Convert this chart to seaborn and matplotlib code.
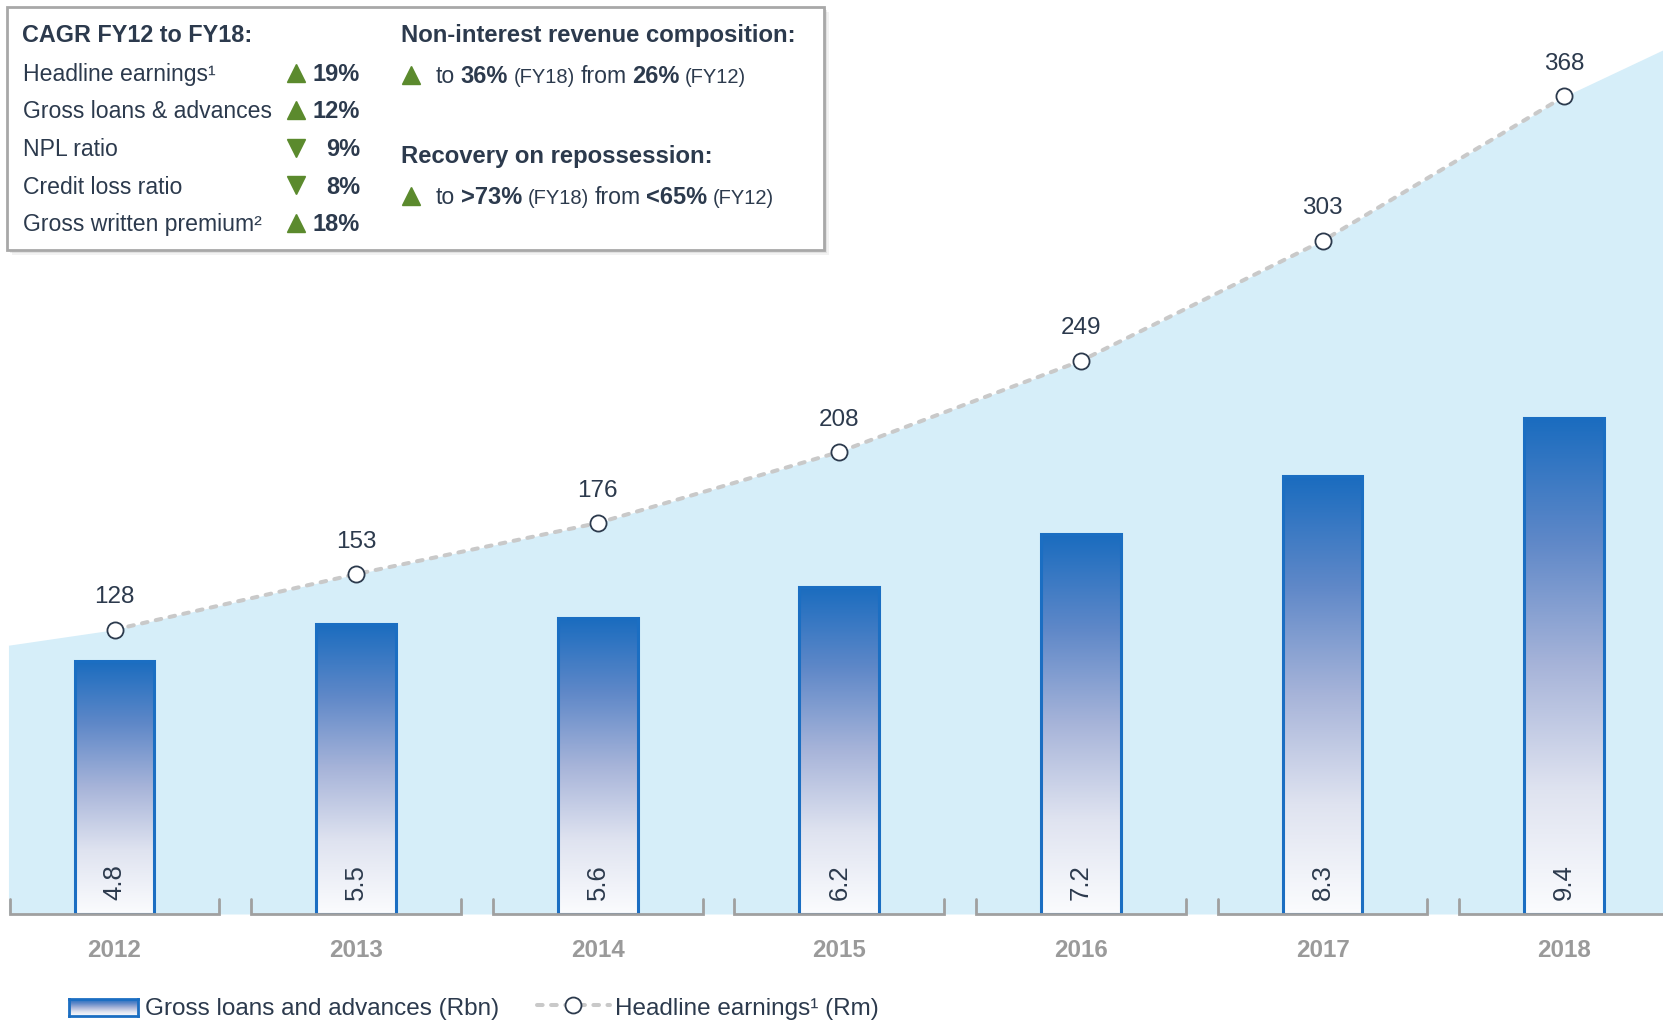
import numpy as np
import pandas as pd
import matplotlib
matplotlib.use("Agg")
import matplotlib.pyplot as plt
import seaborn as sns
from matplotlib.patches import Rectangle
from matplotlib.lines import Line2D
from matplotlib.colors import LinearSegmentedColormap
from matplotlib import font_manager as fm

# ---------------- data ----------------
years = ["2012", "2013", "2014", "2015", "2016", "2017", "2018"]
loans = [4.8, 5.5, 5.6, 6.2, 7.2, 8.3, 9.4]            # Gross loans and advances (Rbn)
earnings = [128, 153, 176, 208, 249, 303, 368]        # Headline earnings (Rm)
area_edge_values = [121, 389]                          # light-blue area at left / right edge (Rm)

cagr_labels = ["Headline earnings\u00b9", "Gross loans & advances", "NPL ratio",
               "Credit loss ratio", "Gross written premium\u00b2"]
cagr_values = ["19%", "12%", "9%", "8%", "18%"]
cagr_up = [True, True, False, False, True]

# ---------------- style ----------------
sns.set_theme(style="white")
names = {f.name for f in fm.fontManager.ttflist}
NARROW = "Liberation Sans Narrow" if "Liberation Sans Narrow" in names else "Liberation Sans"
plt.rcParams["font.family"] = [NARROW, "DejaVu Sans"]

DARK = "#2c3a4d"
GREEN = "#5b8a2d"
BLUE = "#1b6ec2"
AREA = "#d6eef9"
GRAY = "#a0a0a0"

W, H = 1663, 1021
fig = plt.figure(figsize=(W / 100, H / 100), dpi=100)
fig.patch.set_facecolor("white")

base_px = 914
ax = fig.add_axes([0, 1 - base_px / H, 1, base_px / H])
ax2 = ax.twinx()

df = pd.DataFrame({"year": years, "loans": loans, "earnings": earnings,
                   "pos": np.arange(len(years))})

x_left, x_right = -0.474, 6.409
area_start = -0.439

# ---- area + line on ax (Rm scale) ----
xs = np.concatenate([[area_start], df["pos"].values, [x_right]])
ys = np.concatenate([[area_edge_values[0]], df["earnings"].values, [area_edge_values[1]]])
ax.fill_between(xs, ys, 0, color=AREA, lw=0, zorder=0)

sns.lineplot(data=df, x="pos", y="earnings", ax=ax, color="#c9c9c9", lw=2.9,
             linestyle=(0, (1.4, 2.1)), dash_capstyle="round", zorder=2)
sns.scatterplot(data=df, x="pos", y="earnings", ax=ax, s=135, color="white",
                edgecolor=DARK, linewidth=1.3, zorder=3)
for p, v in zip(df["pos"], df["earnings"]):
    ax.annotate(str(v), (p, v), xytext=(0, 19), textcoords="offset points",
                ha="center", va="baseline", fontsize=17.5, color=DARK)

# ---- bars on ax2 (Rbn scale) ----
sns.barplot(data=df, x="year", y="loans", ax=ax2, width=0.33, color=BLUE,
            edgecolor=BLUE, linewidth=2.2, zorder=2)
cmap = LinearSegmentedColormap.from_list(
    "bar", [(0, "#fbfcfe"), (0.25, "#dfe3f0"), (0.5, "#a7b4d9"), (0.75, "#5f88c8"), (1, "#1a6cbf")])
grad = np.linspace(0, 1, 256).reshape(-1, 1)
for patch in list(ax2.patches):
    x0, y0 = patch.get_x(), patch.get_y()
    w, h = patch.get_width(), patch.get_height()
    patch.set_facecolor("none")
    im = ax2.imshow(grad, extent=[x0, x0 + w, y0, y0 + h], origin="lower",
                    aspect="auto", cmap=cmap, zorder=1.5)
    im.set_clip_path(patch)
for i, v in enumerate(df["loans"]):
    ax2.text(i, 0.6, f"{v:.1f}", rotation=90, ha="center", va="center",
             fontsize=18.5, color=DARK, zorder=6)

# bracket-like baseline segments
half = 0.434
tick_h = 15 / 52.77
for i in df["pos"]:
    ax2.plot([i - half, i - half, i + half, i + half], [tick_h, 0, 0, tick_h],
             color=GRAY, lw=2, clip_on=False, zorder=5, solid_joinstyle="miter")

# ---- axes cosmetics ----
ax.set_ylim(0, base_px / 2.2215)
ax2.set_ylim(0, base_px / 52.77)
ax.set_xlim(x_left, x_right)
ax2.set_xlim(x_left, x_right)
for a in (ax, ax2):
    for s in a.spines.values():
        s.set_visible(False)
    a.set_yticks([])
    a.set_ylabel("")
    a.set_xlabel("")
ax.patch.set_alpha(0)
ax.set_xticks(range(len(years)))
ax.set_xticklabels(years, fontweight="bold", color="#9a9a9a", fontsize=17.4)
ax.tick_params(axis="x", length=0, pad=18)

# ---------------- info box ----------------
for k, (dx, dy, al) in enumerate([(5, 5, 0.10), (3, 3, 0.15), (1.5, 1.5, 0.2)]):
    fig.patches.append(Rectangle(((7 + dx) / W, 1 - (250 + dy) / H), 817 / W, 243 / H,
                                 transform=fig.transFigure, facecolor="#808080",
                                 alpha=al, lw=0, zorder=1))
fig.patches.append(Rectangle((7 / W, 1 - 250 / H), 817 / W, 243 / H,
                             transform=fig.transFigure, facecolor="white",
                             edgecolor="#a8a8a8", lw=2, zorder=1.1))

renderer = fig.canvas.get_renderer()


def put(x, y, s, size=17, weight="normal", ha="left", color=DARK):
    return fig.text(x / W, 1 - y / H, s, fontsize=size, fontweight=weight,
                    color=color, ha=ha, va="baseline", zorder=4)


def rich(x, y, pieces, gap=5.5):
    for s, size, weight in pieces:
        t = put(x, y, s, size, weight)
        x += t.get_window_extent(renderer).width + gap


def tri(x, y, up=True, ms=13):
    fig.add_artist(Line2D([x / W], [1 - y / H], marker="^" if up else "v",
                          markersize=ms, color=GREEN, linestyle="none",
                          transform=fig.transFigure, zorder=4))


BODY = 16.6
put(22, 42, "CAGR FY12 to FY18:", 16.8, "bold")
row_base = [81, 118.5, 156, 193.5, 231]
for lab, val, up, yb in zip(cagr_labels, cagr_values, cagr_up, row_base):
    put(23, yb, lab, BODY)
    tri(296, yb - 8, up)
    put(360, yb, val, 17, "bold", ha="right")

put(401, 42, "Non-interest revenue composition:", 17.2, "bold")
tri(410.5, 83 - 8, True)
rich(436, 83, [("to", BODY, "normal"), ("36%", 17, "bold"), ("(FY18)", 14.5, "normal"),
               ("from", BODY, "normal"), ("26%", 17, "bold"), ("(FY12)", 14.5, "normal")])
put(401, 163, "Recovery on repossession:", 17.2, "bold")
tri(410.5, 204 - 8, True)
rich(436, 204, [("to", BODY, "normal"), (">73%", 17, "bold"), ("(FY18)", 14.5, "normal"),
                ("from", BODY, "normal"), ("<65%", 17, "bold"), ("(FY12)", 14.5, "normal")])

# ---------------- legend ----------------
lax = fig.add_axes([69 / W, 1 - 1016 / H, 69 / W, 17 / H])
lax.imshow(grad, aspect="auto", cmap=cmap, origin="lower", extent=[0, 1, 0, 1])
lax.set_xticks([])
lax.set_yticks([])
for s in lax.spines.values():
    s.set_color(BLUE)
    s.set_linewidth(2)
fig.text(145 / W, 1 - 1015 / H, "Gross loans and advances (Rbn)", fontsize=17.5,
         color=DARK, va="baseline", family=["Liberation Sans", "DejaVu Sans"])
fig.add_artist(Line2D([537 / W, 610 / W], [1 - 1005 / H, 1 - 1005 / H], color="#c9c9c9",
                      lw=2.9, linestyle=(0, (1.4, 2.1)), dash_capstyle="round",
                      transform=fig.transFigure))
fig.add_artist(Line2D([573 / W], [1 - 1005 / H], marker="o", markersize=11.5,
                      markerfacecolor="white", markeredgecolor=DARK, markeredgewidth=1.3,
                      linestyle="none", transform=fig.transFigure))
fig.text(615 / W, 1 - 1015 / H, "Headline earnings\u00b9 (Rm)", fontsize=17.5,
         color=DARK, va="baseline", family=["Liberation Sans", "DejaVu Sans"])

fig.savefig("out.png", dpi=100)
